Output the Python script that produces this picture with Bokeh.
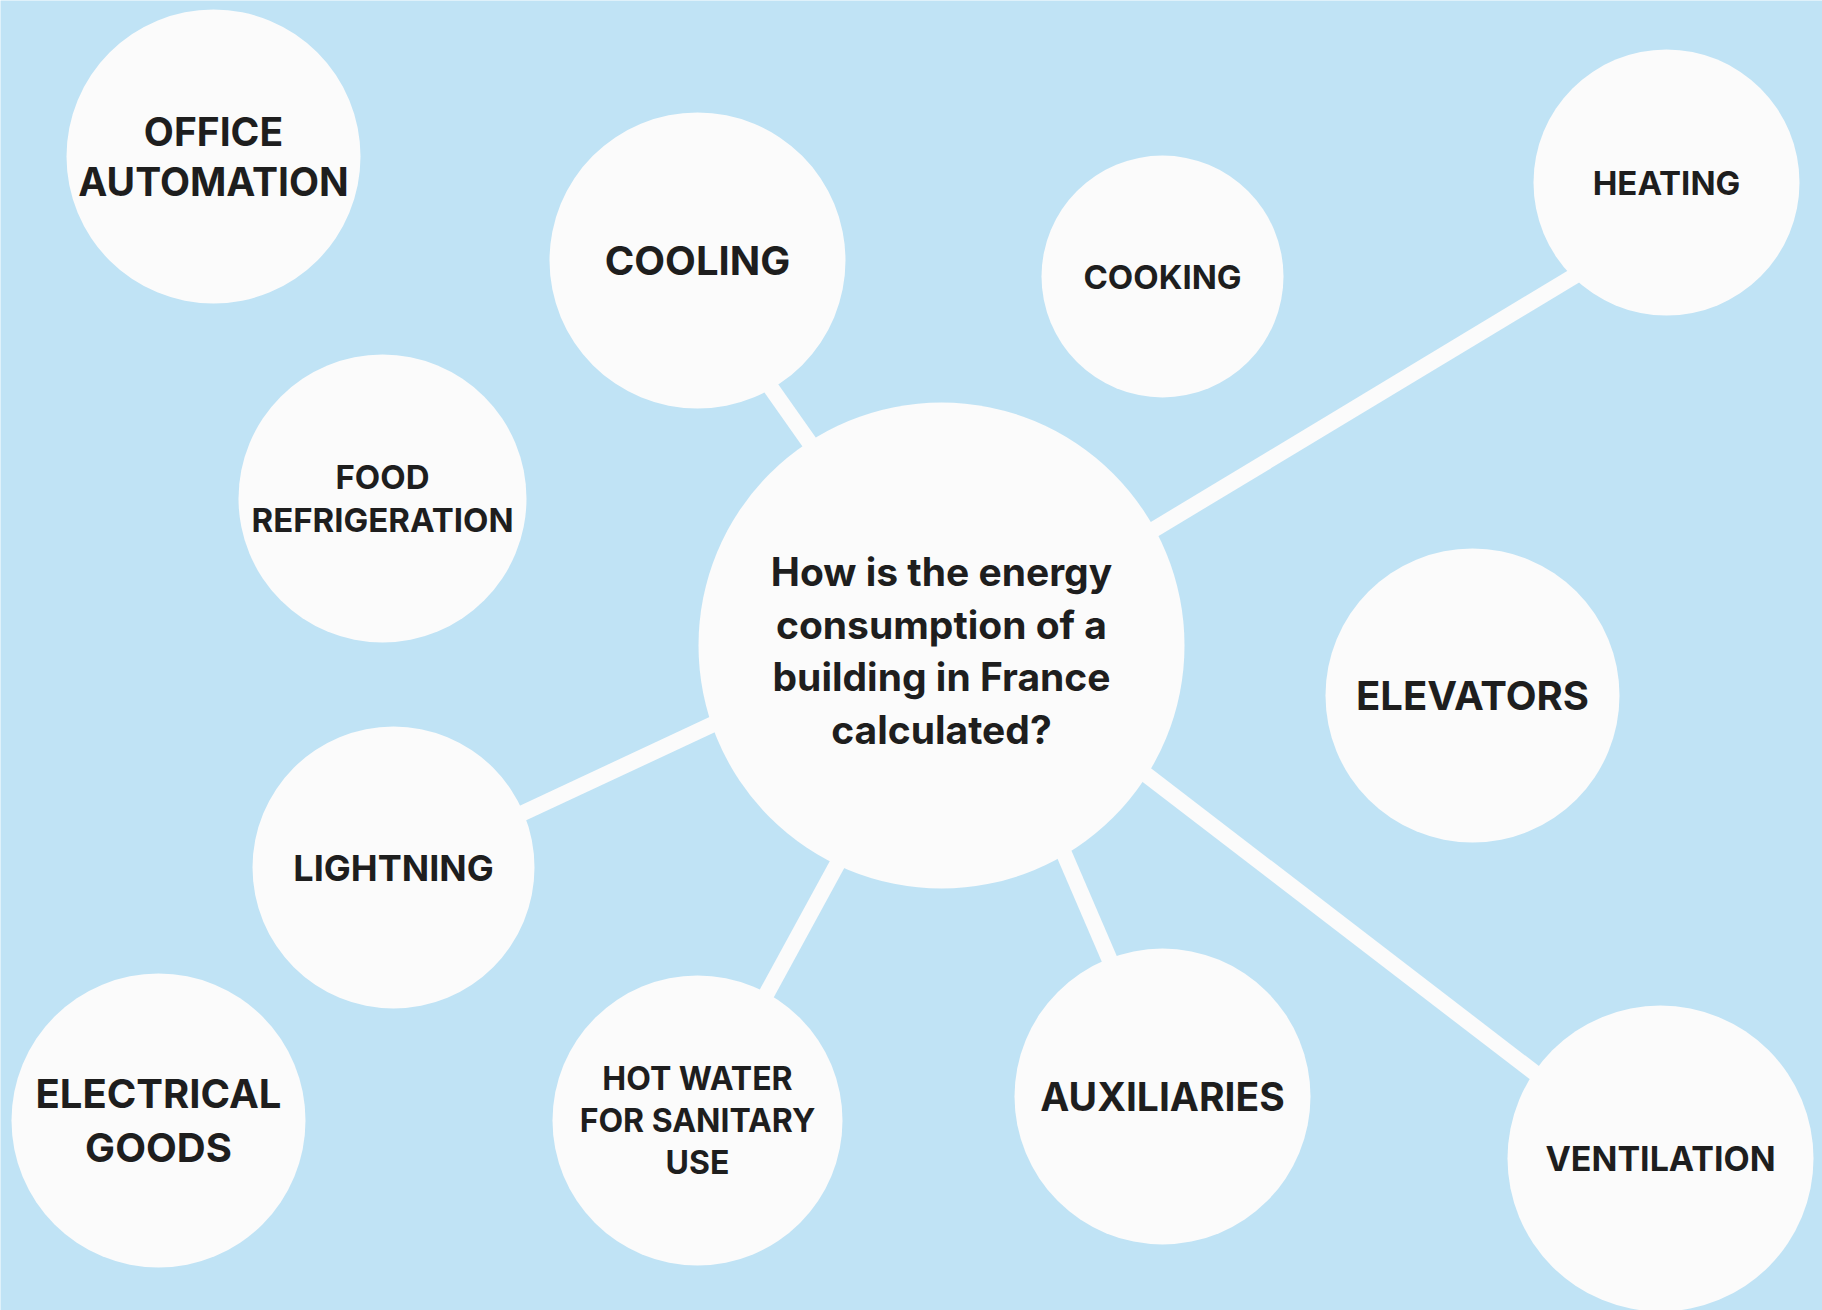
from bokeh.plotting import figure
from bokeh.models import ColumnDataSource, Range1d
from bokeh.core.properties import value
from bokeh.embed import file_html
from bokeh.resources import INLINE

# Central question
hub_label = "How is the energy\nconsumption of a\nbuilding in France\ncalculated?"
hub_x = 941
hub_y = 645
hub_r = 243

# Satellite topics
labels = ["OFFICE\nAUTOMATION", "COOLING", "COOKING", "HEATING",
          "FOOD\nREFRIGERATION", "ELEVATORS", "LIGHTNING",
          "ELECTRICAL\nGOODS", "HOT WATER\nFOR SANITARY\nUSE",
          "AUXILIARIES", "VENTILATION"]
node_x = [213, 697, 1162, 1666, 382, 1472, 393, 158, 697, 1162, 1660]
node_y = [156, 260, 276, 182, 498, 695, 867, 1120, 1120, 1096, 1158]
node_r = [147, 148, 121, 133, 144, 147, 141, 147, 145, 148, 153]
font_px = ["39px", "40px", "33px", "33px", "33px", "40px", "36px",
           "40px", "32px", "39px", "34px"]

# Connectors: point where each spoke meets the hub -> point on the topic
link_to = ["COOLING", "HEATING", "LIGHTNING", "HOT WATER", "AUXILIARIES", "VENTILATION"]
link_x0 = [952, 941, 941, 956, 974, 941]
link_y0 = [645, 657, 617, 645, 645, 617]
link_x1 = [680, 1666, 393, 697, 1168, 1660]
link_y1 = [259, 220, 873, 1120, 1096, 1169]

BG = "#c0e3f5"
W, H = 1822, 1310

p = figure(width=W, height=H, output_backend="svg", toolbar_location=None,
           x_range=Range1d(0, W), y_range=Range1d(H, 0),
           min_border=0, background_fill_color=BG, border_fill_color=BG)
p.axis.visible = False
p.grid.visible = False
p.outline_line_color = None

seg = ColumnDataSource(dict(x0=link_x0, y0=link_y0, x1=link_x1, y1=link_y1, name=link_to))
p.segment("x0", "y0", "x1", "y1", source=seg, line_color="#fbfbfb", line_width=16)

src = ColumnDataSource(dict(x=node_x, y=node_y, r=node_r, label=labels, fs=font_px))
p.circle("x", "y", radius="r", source=src, fill_color="#fbfbfb", line_color=None)
p.circle([hub_x], [hub_y], radius=hub_r, fill_color="#fbfbfb", line_color=None)

FONT = value("Inter")
p.text("x", "y", text="label", source=src, text_font=FONT,
       text_font_style="bold", text_font_size="fs", text_color="#1e1e1e",
       text_align="center", text_baseline="middle", text_line_height=1.085)
p.text([hub_x], [hub_y + 5], text=[hub_label], text_font=FONT,
       text_font_style="bold", text_font_size="39px", text_color="#1e1e1e",
       text_align="center", text_baseline="middle", text_line_height=1.125)

open("out.html", "w").write(file_html(p, INLINE))
